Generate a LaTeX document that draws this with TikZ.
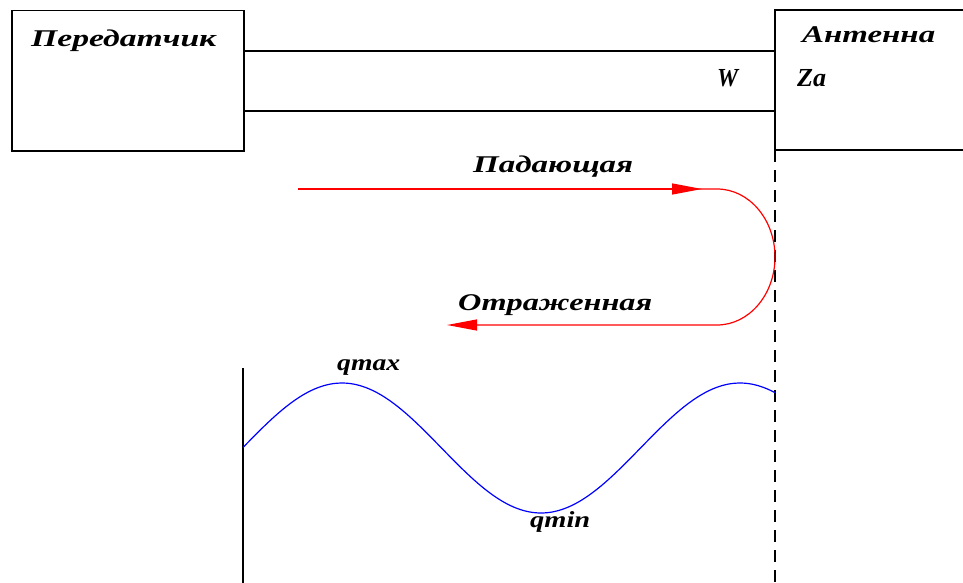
\documentclass[tikz,border=0pt]{standalone}
\usepackage{fontspec}
\setmainfont{Liberation Serif}
\usetikzlibrary{arrows.meta}
\newcommand{\fitw}[2]{\resizebox{#1}{\height}{#2}}
\tikzset{
  box/.style={draw, line width=1.5pt},
  lbl/.style={anchor=base west, inner sep=0pt, font=\fontsize{24}{28}\selectfont\bfseries\itshape},
  slbl/.style={anchor=base west, inner sep=0pt, font=\fontsize{23}{26}\selectfont\bfseries\itshape},
  zlbl/.style={anchor=base west, inner sep=0pt, font=\fontsize{26}{28}\selectfont\bfseries\itshape},
  redline/.style={color=red, line width=1.2pt},
  redtip/.style={-{Triangle[length=30pt,width=11pt,color=red,fill=red]}},
  bluewave/.style={color=blue, line width=1.2pt},
}
\begin{document}
\begin{tikzpicture}[x=1pt,y=-1pt]
\useasboundingbox (0,0) rectangle (963,583);
% transmitter box
\node[box, minimum width=232pt, minimum height=140pt, anchor=north west, inner sep=0pt] (tx) at (11,10) {};
% antenna box (open to the right)
\coordinate (atl) at (775,10);
\coordinate (abl) at (775,150);
\coordinate (atr) at (963,10);
\coordinate (abr) at (963,150);
\draw[box] (atr) -- (atl) -- (abl) -- (abr);
% feeder line
\coordinate (f1a) at (243,51);
\coordinate (f1b) at (775,51);
\coordinate (f2a) at (243,111);
\coordinate (f2b) at (775,111);
\draw[box] (f1a) -- (f1b);
\draw[box] (f2a) -- (f2b);
% dashed line at antenna
\coordinate (dbot) at (775,583);
\draw[line width=1.2pt, dash pattern=on 12pt off 8pt] (abl) -- (dbot);
% left vertical line
\coordinate (vtop) at (243,368);
\coordinate (vbot) at (243,583);
\draw[line width=1.5pt] (vtop) -- (vbot);
% labels
\node[lbl] (ltx) at (31,47) {\fitw{185pt}{Передатчик}};
\node[lbl] (lant) at (802,43) {\fitw{133pt}{Антенна}};
\node[zlbl] (lw) at (717,87) {\fitw{21pt}{W}};
\node[zlbl] (lza) at (797,87) {\fitw{29pt}{Za}};
\node[lbl] (linc) at (473,172) {\fitw{160pt}{Падающая}};
\node[lbl] (lref) at (458,310) {\fitw{194pt}{Отраженная}};
\node[slbl] (lmax) at (337,370) {\fitw{63pt}{qmax}};
\node[slbl] (lmin) at (530,527) {\fitw{60pt}{qmin}};
% incident and reflected waves
\coordinate (inc) at (298,189);
\coordinate (inctip) at (702,189);
\coordinate (under) at (690,189);
\coordinate (turn) at (717,189);
\coordinate (refl) at (447,325);
\draw[redline, redtip] (inc) -- (inctip);
\draw[redline, redtip] (under) -- (turn) arc[start angle=-90, end angle=90, x radius=58, y radius=68] -- (refl);
% standing wave
\draw[bluewave] plot[domain=243:775, samples=120, smooth] (\x, {448-65*cos(((\x-342)/398)*360)});
\end{tikzpicture}
\end{document}
